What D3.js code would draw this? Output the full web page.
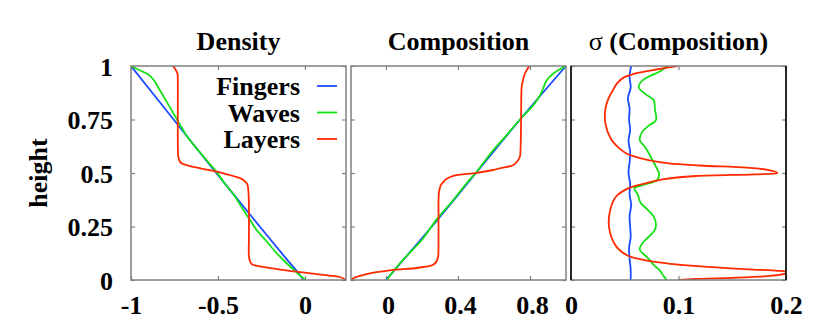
<!DOCTYPE html>
<html>
<head>
<meta charset="utf-8">
<script src="https://cdn.jsdelivr.net/npm/d3@7"></script>
<style>
  body { margin: 0; background: #fff; }
  text { font-family: "Liberation Serif", "Times New Roman", serif; font-weight: bold; }
</style>
</head>
<body>
<svg></svg>
<script>
// values: each point is [height, value]
const heightTicks = [0, 0.25, 0.5, 0.75, 1];
const densityTicks = [-1, -0.5, 0];
const compositionTicks = [0, 0.4, 0.8];
const sigmaTicks = [0, 0.1, 0.2];

const seriesNames = ['Fingers', 'Waves', 'Layers'];
const seriesColors = ['#1a4cff', '#14e014', '#ff2a00'];

const densityFingers = [[1, -1], [0.75, -0.755], [0.5, -0.51], [0.25, -0.26], [0.1, -0.108], [0.04, -0.045], [0, -0.008]];
const densityWaves = [[1, -1], [0.98, -0.95], [0.96, -0.9], [0.93, -0.865], [0.887, -0.834], [0.84, -0.8], [0.794, -0.767],
  [0.728, -0.72], [0.68, -0.685], [0.615, -0.623], [0.55, -0.555], [0.501, -0.505], [0.45, -0.46], [0.4, -0.41],
  [0.328, -0.355], [0.28, -0.315], [0.234, -0.278], [0.18, -0.22], [0.126, -0.163], [0.09, -0.12], [0.056, -0.076],
  [0.025, -0.035], [0, 0.004]];
const densityLayers = [[1, -0.76], [0.985, -0.745], [0.965, -0.733], [0.93, -0.731], [0.8, -0.731], [0.65, -0.731],
  [0.6, -0.73], [0.576, -0.728], [0.555, -0.72], [0.545, -0.709], [0.535, -0.67], [0.522, -0.6], [0.503, -0.489],
  [0.486, -0.412], [0.475, -0.37], [0.467, -0.354], [0.455, -0.338], [0.444, -0.33], [0.4, -0.324], [0.3, -0.322],
  [0.2, -0.322], [0.11, -0.322], [0.085, -0.315], [0.071, -0.3], [0.064, -0.26], [0.05, -0.15], [0.037, -0.029],
  [0.025, 0.09], [0.014, 0.2], [0, 0.236]];

const compositionFingers = [[0, 0], [0.25, 0.255], [0.5, 0.5], [0.75, 0.745], [1, 1]];
const compositionWaves = [[0, 0.005], [0.05, 0.05], [0.095, 0.096], [0.188, 0.2], [0.281, 0.28], [0.374, 0.374],
  [0.452, 0.448], [0.506, 0.504], [0.607, 0.596], [0.677, 0.67], [0.75, 0.744], [0.817, 0.819], [0.87, 0.86],
  [0.933, 0.893], [0.965, 0.93], [1, 1]];
const compositionLayers = [[1, 0.797], [0.985, 0.785], [0.965, 0.772], [0.93, 0.76], [0.903, 0.754], [0.8, 0.751],
  [0.7, 0.75], [0.6, 0.747], [0.576, 0.744], [0.555, 0.73], [0.537, 0.708], [0.522, 0.633], [0.514, 0.596],
  [0.501, 0.504], [0.487, 0.374], [0.474, 0.34], [0.459, 0.319], [0.44, 0.303], [0.405, 0.294], [0.3, 0.292],
  [0.2, 0.292], [0.11, 0.29], [0.09, 0.283], [0.071, 0.263], [0.062, 0.22], [0.056, 0.17], [0.045, 0.022],
  [0.028, -0.107], [0.012, -0.172], [0, -0.194]];

const sigmaFingers = [[1, 0.056], [0.95, 0.0545], [0.9, 0.0555], [0.85, 0.053], [0.8, 0.0545], [0.75, 0.054],
  [0.7, 0.055], [0.65, 0.0535], [0.6, 0.055], [0.55, 0.0545], [0.5, 0.0535], [0.45, 0.055], [0.4, 0.0545],
  [0.35, 0.056], [0.3, 0.0545], [0.25, 0.055], [0.2, 0.0555], [0.15, 0.054], [0.1, 0.0545], [0.05, 0.0555], [0, 0.0555]];
const sigmaWaves = [[1, 0.0895], [0.975, 0.083], [0.95, 0.072], [0.925, 0.065], [0.9, 0.063], [0.87, 0.069],
  [0.84, 0.077], [0.8, 0.078], [0.747, 0.079], [0.72, 0.072], [0.69, 0.066], [0.654, 0.064], [0.62, 0.069],
  [0.568, 0.075], [0.53, 0.079], [0.495, 0.082], [0.467, 0.08], [0.445, 0.068], [0.429, 0.059], [0.4, 0.062],
  [0.359, 0.065], [0.33, 0.071], [0.296, 0.077], [0.26, 0.079], [0.234, 0.078], [0.2, 0.072], [0.17, 0.066],
  [0.141, 0.064], [0.115, 0.069], [0.095, 0.073], [0.07, 0.077], [0.048, 0.082], [0.02, 0.086], [0, 0.089]];
const sigmaLayers = [[1, 0.099], [0.98, 0.075], [0.965, 0.06], [0.949, 0.05], [0.92, 0.043], [0.887, 0.039],
  [0.85, 0.035], [0.8, 0.032], [0.732, 0.032], [0.66, 0.037], [0.615, 0.045], [0.59, 0.052], [0.579, 0.058],
  [0.56, 0.072], [0.545, 0.091], [0.535, 0.12], [0.525, 0.164], [0.515, 0.183], [0.506, 0.19], [0.5, 0.192],
  [0.494, 0.17], [0.486, 0.116], [0.47, 0.085], [0.455, 0.072], [0.44, 0.06], [0.428, 0.053], [0.39, 0.042],
  [0.328, 0.0365], [0.242, 0.0355], [0.157, 0.042], [0.113, 0.053], [0.1, 0.062], [0.087, 0.075], [0.072, 0.1],
  [0.06, 0.132], [0.05, 0.165], [0.043, 0.193], [0.035, 0.204], [0.025, 0.195], [0.017, 0.18], [0.01, 0.15],
  [0.005, 0.116], [0, 0.1]];

const width = 830;
const height = 334;
const plotTop = 66;
const plotBottom = 280;
const fontSize = 26;

const panels = [
  { title: 'Density', domain: [-1, 0.236], ticks: densityTicks, left: 131, right: 346,
    lines: [densityFingers, densityWaves, densityLayers] },
  { title: 'Composition', domain: [-0.194, 1], ticks: compositionTicks, left: 351, right: 566, labelShift: 2,
    lines: [compositionFingers, compositionWaves, compositionLayers] },
  { title: '(Composition)', sigma: true, domain: [0, 0.2], ticks: sigmaTicks, left: 571, right: 786,
    lines: [sigmaFingers, sigmaWaves, sigmaLayers] },
];

const svg = d3.select('svg')
  .attr('width', width)
  .attr('height', height);

const y = d3.scaleLinear().domain([0, 1]).range([plotBottom, plotTop]);
const fmt = d => String(d);

panels.forEach((p, i) => {
  const x = d3.scaleLinear().domain(p.domain).range([p.left, p.right]);
  const g = svg.append('g').attr('class', `panel-${i}`);

  g.append('clipPath').attr('id', `clip-${i}`)
    .append('rect')
    .attr('x', p.left).attr('y', plotTop)
    .attr('width', p.right - p.left).attr('height', plotBottom - plotTop);

  // inward ticks on all four sides
  const tickStyle = sel => {
    sel.select('.domain').remove();
    sel.selectAll('.tick line').attr('stroke', '#808080').attr('stroke-width', 1.2);
  };

  const xb = g.append('g').attr('transform', `translate(0,${plotBottom})`)
    .call(d3.axisBottom(x).tickValues(p.ticks).tickFormat(fmt).tickSizeInner(-4).tickSizeOuter(0).tickPadding(16))
    .call(tickStyle);
  xb.selectAll('.tick text')
    .attr('fill', '#000')
    .attr('dx', p.labelShift || 0)
    .style('font-size', `${fontSize}px`)
    .style('font-family', '"Liberation Serif", serif');

  g.append('g').attr('transform', `translate(0,${plotTop})`)
    .call(d3.axisTop(x).tickValues(p.ticks).tickFormat('').tickSizeInner(-4).tickSizeOuter(0))
    .call(tickStyle);

  const yl = g.append('g').attr('transform', `translate(${p.left},0)`)
    .call(d3.axisLeft(y).tickValues(heightTicks).tickFormat(i === 0 ? fmt : '').tickSizeInner(-4).tickSizeOuter(0).tickPadding(18))
    .call(tickStyle);
  yl.selectAll('.tick text')
    .attr('fill', '#000')
    .attr('dy', '0.36em')
    .style('font-size', `${fontSize}px`)
    .style('font-family', '"Liberation Serif", serif');

  g.append('g').attr('transform', `translate(${p.right},0)`)
    .call(d3.axisRight(y).tickValues(heightTicks).tickFormat('').tickSizeInner(-4).tickSizeOuter(0))
    .call(tickStyle);

  // the curves
  const line = d3.line()
    .x(d => x(d[1]))
    .y(d => y(d[0]))
    .curve(d3.curveCatmullRom.alpha(0.5));

  g.append('g').attr('clip-path', `url(#clip-${i})`)
    .selectAll('path')
    .data(p.lines)
    .join('path')
    .attr('d', line)
    .attr('fill', 'none')
    .attr('stroke', (d, k) => seriesColors[k])
    .attr('stroke-width', 1.8)
    .attr('stroke-linejoin', 'round');

  // frame
  g.append('rect')
    .attr('x', p.left).attr('y', plotTop)
    .attr('width', p.right - p.left).attr('height', plotBottom - plotTop)
    .attr('fill', 'none')
    .attr('stroke', '#808080')
    .attr('stroke-width', 1.5);
  if (p.sigma) {
    g.selectAll('.side')
      .data([p.left, p.right])
      .join('line')
      .attr('class', 'side')
      .attr('x1', d => d).attr('x2', d => d)
      .attr('y1', plotTop).attr('y2', plotBottom)
      .attr('stroke', '#000')
      .attr('stroke-width', 1.5);
  }

  // title
  const t = svg.append('text')
    .attr('x', (p.left + p.right) / 2)
    .attr('y', 50)
    .attr('text-anchor', 'middle')
    .style('font-size', `${fontSize}px`);
  if (p.sigma) {
    t.append('tspan').style('font-weight', 'normal').text('σ ');
  }
  t.append('tspan').text(p.title);
});

// y label
svg.append('text')
  .attr('transform', 'translate(47,173) rotate(-90)')
  .attr('text-anchor', 'middle')
  .style('font-size', `${fontSize}px`)
  .text('height');

// legend inside the first panel
const legendY = d3.scalePoint().domain(seriesNames).range([86, 139]);
const legend = svg.append('g').attr('class', 'legend');
legend.selectAll('text')
  .data(seriesNames)
  .join('text')
  .attr('x', 300)
  .attr('y', d => legendY(d) + 9)
  .attr('text-anchor', 'end')
  .style('font-size', `${fontSize}px`)
  .text(d => d);
legend.selectAll('line')
  .data(seriesNames)
  .join('line')
  .attr('x1', 317).attr('x2', 337)
  .attr('y1', d => legendY(d)).attr('y2', d => legendY(d))
  .attr('stroke', (d, k) => seriesColors[k])
  .attr('stroke-width', 1.8);
</script>
</body>
</html>
